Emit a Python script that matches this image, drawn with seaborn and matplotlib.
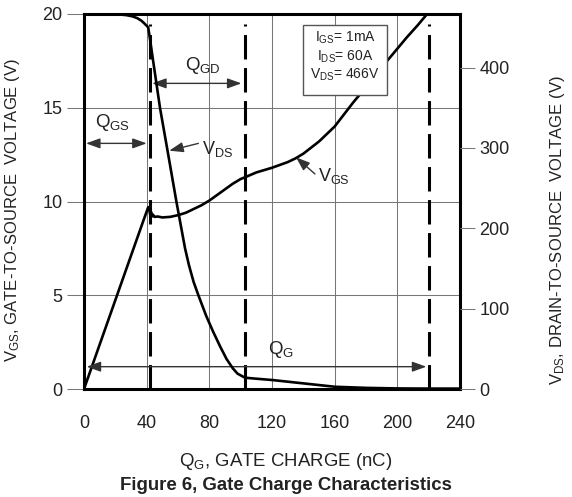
import matplotlib
matplotlib.use("Agg")
import matplotlib.pyplot as plt
from matplotlib.patches import Rectangle
import seaborn as sns
import pandas as pd

# ---------------- data ----------------
qg_vgs = [0, 10, 20, 30, 38, 41, 41.6, 42.2, 42.8, 43.4, 44, 45, 47, 50, 55, 60, 65,
          70, 75, 80, 85, 90, 95, 100, 103, 110, 120, 130, 135, 140, 150, 160, 172,
          177, 183, 193, 206, 213, 219, 230, 240]
vgs = [0, 2.37, 4.74, 7.11, 9.0, 9.7, 9.62, 9.3, 9.45, 9.2, 9.3, 9.18, 9.2, 9.15, 9.18,
       9.27, 9.4, 9.6, 9.8, 10.05, 10.35, 10.65, 10.95, 11.2, 11.3, 11.55, 11.8, 12.1,
       12.3, 12.55, 13.2, 14.0, 15.3, 15.8, 16.4, 17.45, 18.75, 19.4, 20, 20, 20]

qg_vds = [0, 15, 22, 27, 31, 34, 36.5, 38.5, 40, 41, 42, 44, 48.5, 54, 59, 64.5, 67, 70,
          73, 78, 82.5, 87, 91, 95, 98, 101.7, 103, 110, 120, 140, 160, 180, 200, 220, 240]
vds = [466.7, 466.7, 466.2, 465.3, 463.7, 461.5, 458.5, 455, 452, 450, 437, 410, 350,
       289, 233, 175, 154, 133, 116.7, 91, 71, 52.5, 37.3, 25.7, 19.1, 15.2, 14, 12.8,
       11.2, 7, 2.8, 1.4, 0.7, 0.5, 0.5]

marker_charges = [42, 103, 220]          # dashed vertical lines (nC)
x_ticks = [0, 40, 80, 120, 160, 200, 240]
vgs_ticks = [0, 5, 10, 15, 20]
vds_ticks = [0, 100, 200, 300, 400]
box_lines = [r"$\mathregular{I_{GS}}$= 1mA", r"$\mathregular{I_{DS}}$= 60A",
             r"$\mathregular{V_{DS}}$= 466V"]

# ---------------- style ----------------
sns.set_style("white")
plt.rcParams["font.family"] = ["Liberation Sans", "DejaVu Sans"]
plt.rcParams["mathtext.fontset"] = "custom"
plt.rcParams["mathtext.rm"] = "Liberation Sans"
plt.rcParams["mathtext.it"] = "Liberation Sans:italic"
plt.rcParams["mathtext.bf"] = "Liberation Sans:bold"

FS = 12.5
FS_TICK = 13
FS_V = 12
GRID = "#777777"
TXT = "#222222"

fig, ax = plt.subplots(figsize=(5.72, 4.97), dpi=100)
fig.subplots_adjust(left=84 / 572, right=460 / 572, bottom=1 - 389 / 497, top=1 - 14 / 497)

df_gs = pd.DataFrame({"qg": qg_vgs, "v": vgs})
df_ds = pd.DataFrame({"qg": qg_vds, "v": vds})

sns.lineplot(data=df_gs, x="qg", y="v", ax=ax, color="black", lw=1.9,
             estimator=None, sort=False, zorder=4)

ax.set_xlim(0, 240)
ax.set_ylim(0, 20)
ax.set_xticks(x_ticks)
ax.set_yticks(vgs_ticks)
ax.grid(True, color=GRID, lw=0.75, zorder=0)
ax.set_axisbelow(True)
ax.tick_params(axis="x", direction="out", length=11.5, width=0.75, color=GRID,
               labelsize=FS_TICK, labelcolor=TXT, pad=7.5)
ax.tick_params(axis="y", direction="out", length=12, width=0.75, color=GRID,
               labelsize=FS_TICK, labelcolor=TXT, pad=3.5)
for s in ax.spines.values():
    s.set_color("black")
    s.set_linewidth(2.2)

# dashed markers
ax.vlines(marker_charges, 0, 19.47, colors="black", lw=2.2,
          linestyles=(0, (8, 2.8)), zorder=3)

ax.set_xlabel("")
ax.set_ylabel(r"$\mathregular{V_{GS}}$, GATE-TO-SOURCE  VOLTAGE (V)", fontsize=FS_V, color=TXT)
ax.yaxis.set_label_coords(-0.165, 0.477)

# annotation box
ax.add_patch(Rectangle((139.6, 15.68), 54.0, 3.73, facecolor="white",
                       edgecolor="#555555", lw=1.0, zorder=6))
for txt, yy in zip(box_lines, [18.72, 17.71, 16.75]):
    ax.text(166.6, yy, txt, ha="center", va="center", fontsize=10, color=TXT, zorder=7)

# arrows
aprops2 = dict(arrowstyle="<|-|>,head_length=0.5,head_width=0.18", color="#333333",
               lw=1.0, shrinkA=0, shrinkB=0, mutation_scale=17)
aprops1 = dict(arrowstyle="-|>,head_length=0.5,head_width=0.18", color="#333333",
               lw=1.0, shrinkA=0, shrinkB=0, mutation_scale=17)
ax.annotate("", xy=(40, 13.1), xytext=(1.3, 13.1), arrowprops=aprops2, zorder=5)
ax.annotate("", xy=(100.5, 16.3), xytext=(43.5, 16.3), arrowprops=aprops2, zorder=5)
ax.annotate("", xy=(218.5, 1.19), xytext=(1.7, 1.19), arrowprops=aprops2, zorder=5)
ax.annotate("", xy=(54.4, 12.71), xytext=(73, 13.1), arrowprops=aprops1, zorder=5)
ax.annotate("", xy=(135.3, 12.36), xytext=(147.4, 11.47), arrowprops=aprops1, zorder=5)

ax.text(7, 13.97, r"$\mathregular{Q_{GS}}$", fontsize=FS + 1, color=TXT, ha="left", va="baseline")
ax.text(64.5, 17.0, r"$\mathregular{Q_{GD}}$", fontsize=FS + 1, color=TXT, ha="left", va="baseline")
ax.text(117.4, 1.87, r"$\mathregular{Q_{G}}$", fontsize=FS + 1, color=TXT, ha="left", va="baseline")
ax.text(75.2, 12.55, r"$\mathregular{V_{DS}}$", fontsize=FS + 0.5, color=TXT, ha="left", va="baseline")
ax.text(149.4, 11.11, r"$\mathregular{V_{GS}}$", fontsize=FS + 0.5, color=TXT, ha="left", va="baseline")

# right axis
ax2 = ax.twinx()
sns.lineplot(data=df_ds, x="qg", y="v", ax=ax2, color="black", lw=1.9,
             estimator=None, sort=False)
ax2.set_ylim(0, 466.67)
ax2.set_yticks(vds_ticks)
ax2.tick_params(axis="y", direction="out", length=11, width=0.75, color=GRID,
                labelsize=FS_TICK, labelcolor=TXT, pad=3)
for s in ax2.spines.values():
    s.set_visible(False)
ax2.set_xlabel("")
ax2.set_ylabel(r"$\mathregular{V_{DS}}$, DRAIN-TO-SOURCE  VOLTAGE (V)", fontsize=FS_V, color=TXT)
ax2.yaxis.set_label_coords(1.234, 0.424)
ax2.grid(False)

fig.text(0.5, 1 - 462 / 497, r"$\mathregular{Q_{G}}$, GATE CHARGE (nC)", ha="center",
         va="center", fontsize=13.4, color=TXT)
fig.text(0.5, 1 - 485 / 497, "Figure 6, Gate Charge Characteristics", ha="center",
         va="center", fontsize=13.4, fontweight="bold", color=TXT)

fig.savefig("out.png", dpi=100)
